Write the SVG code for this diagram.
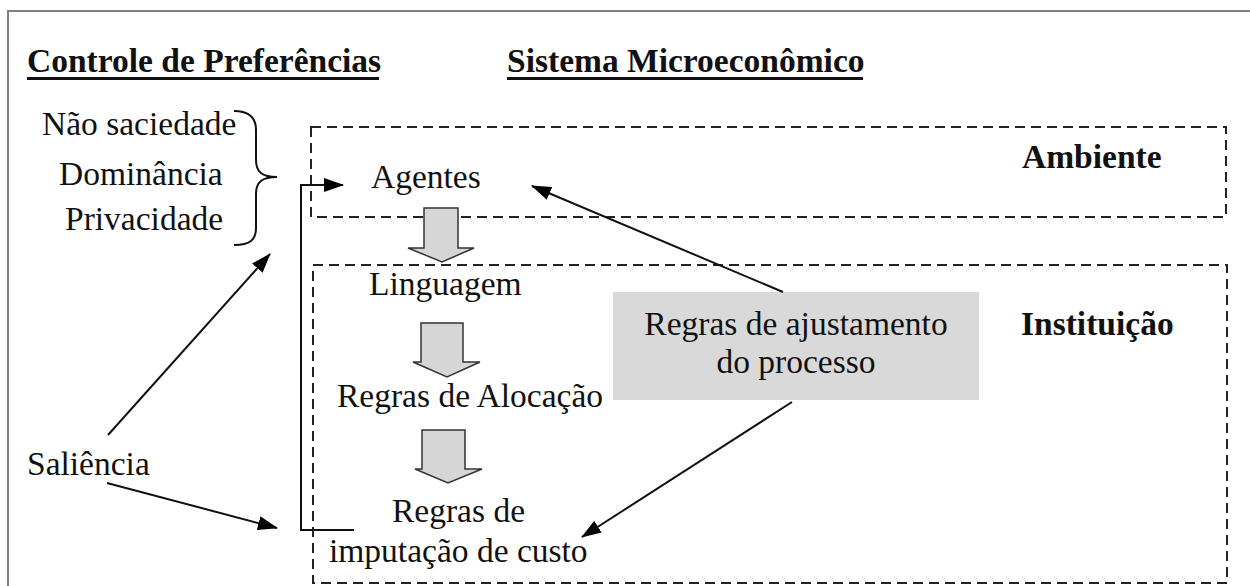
<svg xmlns="http://www.w3.org/2000/svg" width="1250" height="586" viewBox="0 0 1250 586">
<defs>
<style>
.b{font-weight:bold}
.box{fill:none;stroke:#222;stroke-width:2;stroke-dasharray:10 6}
.ln{fill:none;stroke:#111;stroke-width:2}
.blk{fill:#d6d6d6;stroke:#333;stroke-width:1.5;stroke-linejoin:miter}
</style>
<marker id="ah" markerUnits="userSpaceOnUse" markerWidth="20" markerHeight="14" refX="19" refY="7" orient="auto">
<path d="M0,0 L20,7 L0,14 z" fill="#000"/>
</marker>
</defs>
<rect width="1250" height="586" fill="#fff"/>
<path d="M8,600 V11 H1260" fill="none" stroke="#808080" stroke-width="2"/>
<g font-family="'Liberation Serif', 'DejaVu Serif', serif" font-size="33.5" fill="#111">
<g id="titles">
<text class="b" x="27" y="72">Controle de Preferências</text>
<rect x="27" y="77" width="352" height="3" fill="#111"/>
<text class="b" x="507" y="72">Sistema Microeconômico</text>
<rect x="507" y="77" width="356" height="3" fill="#111"/>
</g>

<g id="ambiente">
<rect class="box" x="311" y="127" width="915" height="90"/>
<text class="b" x="1022" y="168">Ambiente</text>
</g>
<g id="instituicao">
<rect class="box" x="313" y="265" width="914" height="318"/>
<text class="b" x="1021" y="335">Instituição</text>
</g>

<g id="preferencias">
<text x="42" y="135">Não saciedade</text>
<text x="59" y="185">Dominância</text>
<text x="65" y="230">Privacidade</text>
<path class="ln" stroke-width="1.5" d="M234,111 C250,111 256,118 256,130 V160 C256,172 262,177 277,177 C262,177 256,182 256,194 V228 C256,240 250,245 234,245"/>
</g>

<g id="saliencia"><text x="27" y="475">Saliência</text></g>
<g id="agentes"><text x="371" y="188">Agentes</text></g>
<g id="linguagem"><text x="369" y="295">Linguagem</text></g>
<g id="alocacao"><text x="337" y="407">Regras de Alocação</text></g>
<g id="imputacao">
<text x="392" y="522">Regras de</text>
<text x="329" y="562">imputação de custo</text>
</g>
<g id="ajustamento">
<rect x="613" y="292" width="366" height="108" fill="#d9d9d9"/>
<text x="796" y="335" text-anchor="middle">Regras de ajustamento</text>
<text x="796" y="373" text-anchor="middle">do processo</text>
</g>
</g>
<g id="block-arrows">
<path class="blk" d="M424,208 H458 V248 H474 L442,262 L408,248 H424 Z"/>
<path class="blk" d="M421,323 H463 V362 H480 L447,377 L413,362 H421 Z"/>
<path class="blk" d="M422,430 H465 V469 H482 L448,483 L415,469 H422 Z"/>
</g>

<g id="connectors">
<path class="ln" d="M354,530 H301 V185 H343" marker-end="url(#ah)"/>
<path class="ln" d="M108,435 L270,254" marker-end="url(#ah)"/>
<path class="ln" d="M107,483 L277,528" marker-end="url(#ah)"/>
<path class="ln" d="M783,292 L532,186" marker-end="url(#ah)"/>
<path class="ln" d="M792,402 L582,537" marker-end="url(#ah)"/>
</g>
</svg>
